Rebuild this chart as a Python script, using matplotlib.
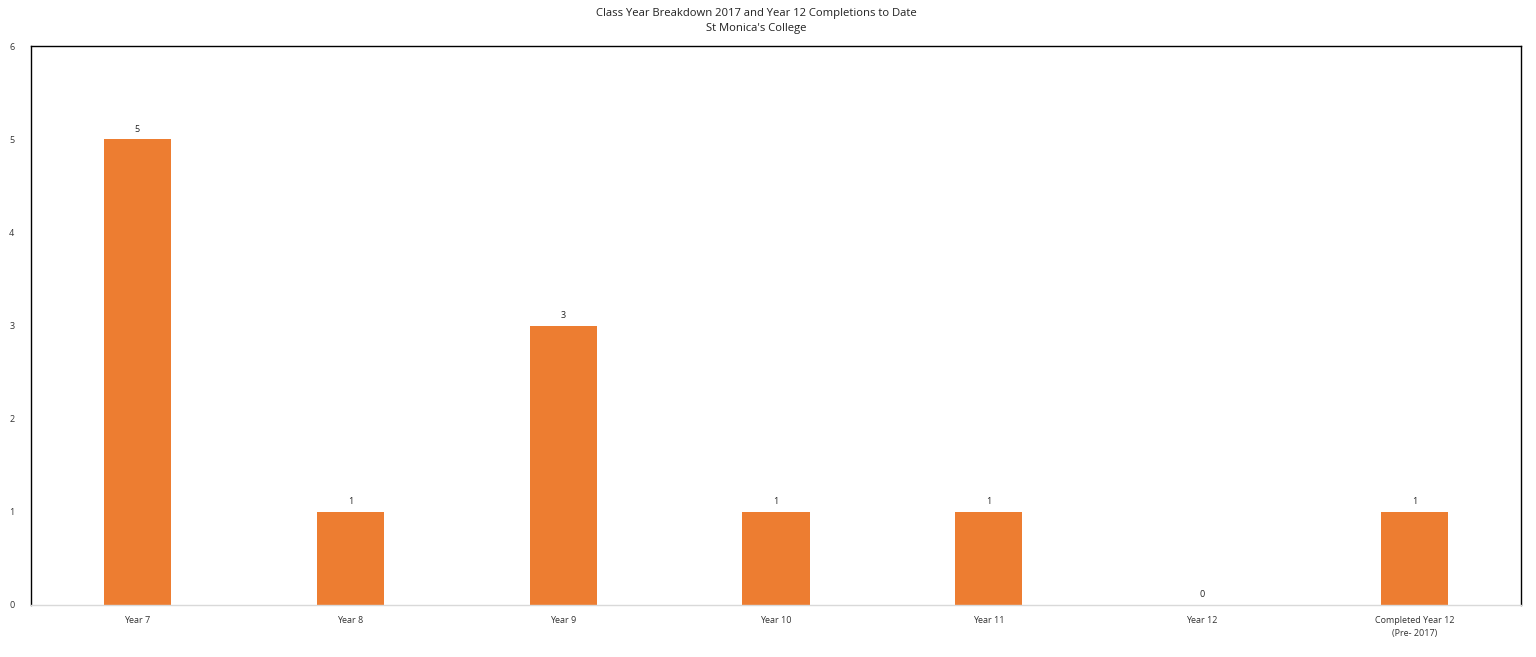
import matplotlib
matplotlib.use("Agg")
import matplotlib.pyplot as plt

# data
categories = ["Year 7", "Year 8", "Year 9", "Year 10", "Year 11", "Year 12",
              "Completed Year 12\n(Pre- 2017)"]
counts = [5, 1, 3, 1, 1, 0, 1]
y_ticks = [0, 1, 2, 3, 4, 5, 6]

plt.rcParams["font.family"] = ["Open Sans", "DejaVu Sans"]

fig = plt.figure(figsize=(15.36, 6.57), dpi=100)
ax = fig.add_axes([31 / 1536, 1 - 605 / 657, 1490 / 1536, 559 / 657])

x = list(range(len(categories)))
bars = ax.bar(x, counts, width=0.315, color="#ED7D31")
for xi, v in zip(x, counts):
    ax.annotate(str(v), (xi, v), xytext=(0, 4), textcoords="offset points",
                ha="center", va="bottom", fontsize=6.5, color="#222222")

ax.set_xlim(-0.5, len(categories) - 0.5)
ax.set_ylim(0, 6)
ax.set_yticks(y_ticks)
ax.set_xticks(x)
ax.set_xticklabels(categories, fontsize=6.5, color="#333333", linespacing=1.5)
ax.tick_params(axis="y", length=0, pad=12, labelsize=6.5, labelcolor="#333333")
ax.tick_params(axis="x", length=0, pad=8)

for s in ["left", "top", "right"]:
    ax.spines[s].set_color("black")
    ax.spines[s].set_linewidth(1.0)
ax.spines["bottom"].set_color("#d9d9d9")
ax.spines["bottom"].set_linewidth(1.0)

fig.text(756 / 1536, 1 - 21 / 657, "Class Year Breakdown 2017 and Year 12 Completions to Date\nSt Monica's College",
         ha="center", va="center", fontsize=8.1, color="#222222", linespacing=1.5)

fig.savefig("out.png", dpi=100, facecolor="white")
